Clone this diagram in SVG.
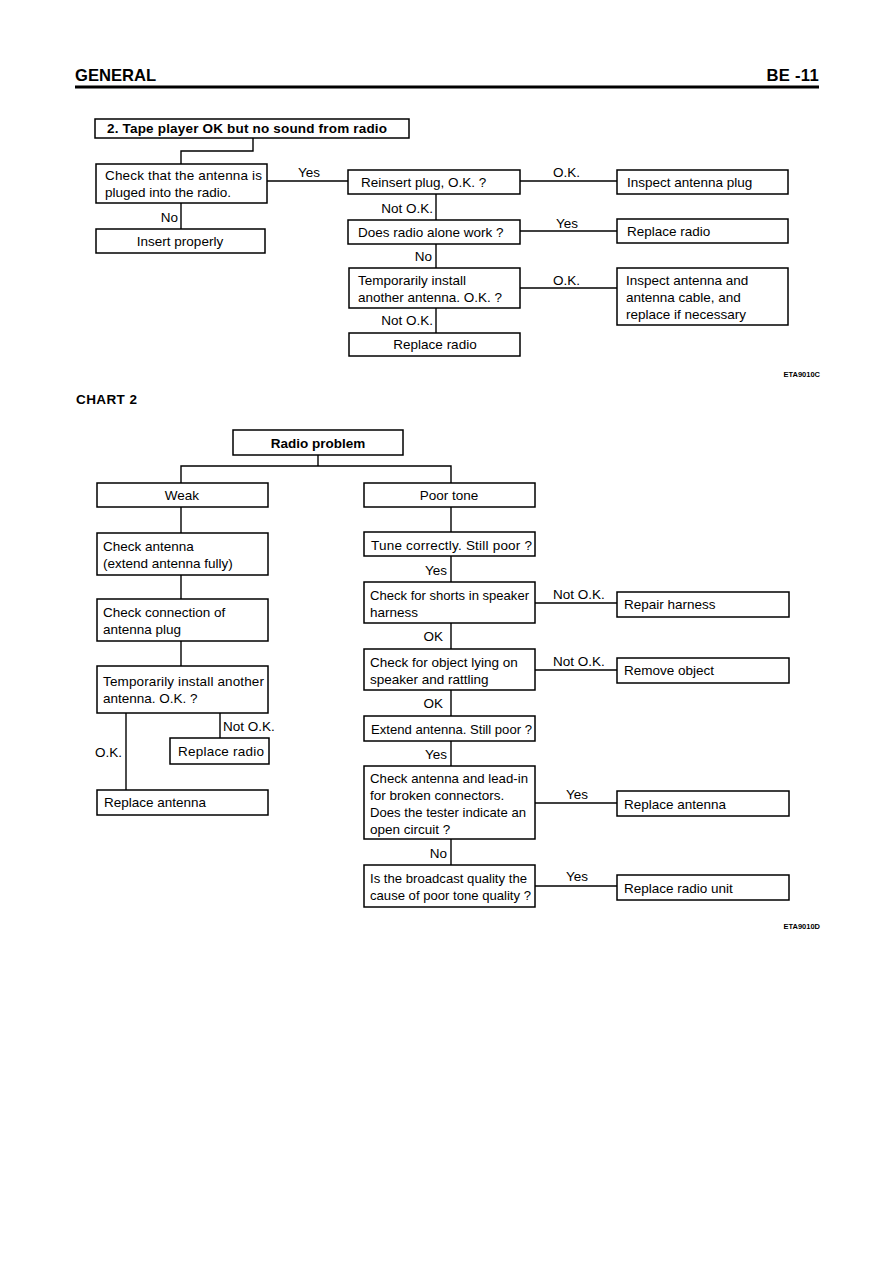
<svg xmlns="http://www.w3.org/2000/svg" width="893" height="1263" viewBox="0 0 893 1263">
<style>
.bg{fill:#ffffff}
.box{fill:#ffffff;stroke:#000000;stroke-width:1.5}
.ln{fill:none;stroke:#000000;stroke-width:1.4}
text{font-family:"Liberation Sans",Arial,sans-serif;font-size:13.5px;fill:#000000}
.b{font-weight:bold}
.c{text-anchor:middle}
.r{text-anchor:end}
.s{font-size:7.5px;font-weight:bold}
</style>
<rect class="bg" x="0" y="0" width="893" height="1263"/>
<g id="header">
<text x="75" y="81" class="b" style="font-size:16.6px">GENERAL</text>
<text x="819" y="81" class="b r" style="font-size:16.6px;letter-spacing:0.3px">BE -11</text>
<rect x="75" y="85.5" width="744" height="3" fill="#000000"/>
</g>
<g id="connectors">
<polyline class="ln" points="253,138 253,151 181,151 181,164"/>
<line class="ln" x1="181" y1="203" x2="181" y2="229"/>
<line class="ln" x1="267" y1="181" x2="348" y2="181"/>
<line class="ln" x1="520" y1="181" x2="617" y2="181"/>
<line class="ln" x1="436" y1="194" x2="436" y2="220"/>
<line class="ln" x1="520" y1="231" x2="617" y2="231"/>
<line class="ln" x1="436" y1="244" x2="436" y2="268"/>
<line class="ln" x1="520" y1="288" x2="617" y2="288"/>
<line class="ln" x1="436" y1="308" x2="436" y2="333"/>
<line class="ln" x1="318" y1="455" x2="318" y2="466"/>
<polyline class="ln" points="181,483 181,466 451,466 451,483"/>
<line class="ln" x1="181" y1="507" x2="181" y2="533"/>
<line class="ln" x1="181" y1="575" x2="181" y2="599"/>
<line class="ln" x1="181" y1="641" x2="181" y2="666"/>
<line class="ln" x1="126" y1="713" x2="126" y2="790"/>
<line class="ln" x1="220" y1="713" x2="220" y2="738"/>
<line class="ln" x1="451" y1="507" x2="451" y2="532"/>
<line class="ln" x1="451" y1="556" x2="451" y2="582"/>
<line class="ln" x1="451" y1="623" x2="451" y2="649"/>
<line class="ln" x1="451" y1="690" x2="451" y2="716"/>
<line class="ln" x1="451" y1="741" x2="451" y2="766"/>
<line class="ln" x1="451" y1="839" x2="451" y2="865"/>
<line class="ln" x1="535" y1="603" x2="617" y2="603"/>
<line class="ln" x1="535" y1="670" x2="617" y2="670"/>
<line class="ln" x1="535" y1="803" x2="617" y2="803"/>
<line class="ln" x1="535" y1="886" x2="617" y2="886"/>
</g>
<g id="edge-labels">
<text x="298" y="177">Yes</text>
<text x="178" y="222" class="r">No</text>
<text x="553" y="177">O.K.</text>
<text x="433" y="213" class="r">Not O.K.</text>
<text x="556" y="228">Yes</text>
<text x="432" y="261" class="r">No</text>
<text x="553" y="285">O.K.</text>
<text x="433" y="325" class="r">Not O.K.</text>
<text x="223" y="731">Not O.K.</text>
<text x="122" y="757" class="r">O.K.</text>
<text x="447" y="575" class="r">Yes</text>
<text x="443" y="641" class="r">OK</text>
<text x="553" y="599">Not O.K.</text>
<text x="553" y="666">Not O.K.</text>
<text x="443" y="708" class="r">OK</text>
<text x="447" y="759" class="r">Yes</text>
<text x="566" y="799">Yes</text>
<text x="447" y="858" class="r">No</text>
<text x="566" y="881">Yes</text>
</g>
<g id="n-title">
<rect class="box" x="95" y="119" width="314" height="19"/>
<text x="107" y="133" class="b" textLength="280" lengthAdjust="spacing">2. Tape player OK but no sound from radio</text>
</g>
<g id="n-check-plugged">
<rect class="box" x="96" y="164" width="171" height="39"/>
<text x="105" y="180" textLength="157" lengthAdjust="spacing">Check that the antenna is</text>
<text x="105" y="197">pluged into the radio.</text>
</g>
<g id="n-insert">
<rect class="box" x="96" y="229" width="169" height="24"/>
<text x="180" y="246" class="c">Insert properly</text>
</g>
<g id="n-reinsert">
<rect class="box" x="348" y="170" width="172" height="24"/>
<text x="361" y="187">Reinsert plug, O.K. ?</text>
</g>
<g id="n-inspect-plug">
<rect class="box" x="617" y="170" width="171" height="24"/>
<text x="627" y="187">Inspect antenna plug</text>
</g>
<g id="n-radio-alone">
<rect class="box" x="348" y="220" width="172" height="24"/>
<text x="358" y="237">Does radio alone work ?</text>
</g>
<g id="n-replace-radio-1">
<rect class="box" x="617" y="219" width="171" height="24"/>
<text x="627" y="236">Replace radio</text>
</g>
<g id="n-temp-install-1">
<rect class="box" x="349" y="268" width="171" height="40"/>
<text x="358" y="285">Temporarily install</text>
<text x="358" y="302">another antenna. O.K. ?</text>
</g>
<g id="n-inspect-cable">
<rect class="box" x="617" y="268" width="171" height="57"/>
<text x="626" y="285">Inspect antenna and</text>
<text x="626" y="302">antenna cable, and</text>
<text x="626" y="319">replace if necessary</text>
</g>
<g id="n-replace-radio-2">
<rect class="box" x="349" y="333" width="171" height="23"/>
<text x="435" y="349" class="c">Replace radio</text>
</g>
<text x="820" y="377" class="s r">ETA9010C</text>
<text x="76" y="404" class="b" style="letter-spacing:0.4px">CHART 2</text>
<g id="n-radio-problem">
<rect class="box" x="233" y="430" width="170" height="25"/>
<text x="318" y="448" class="b c">Radio problem</text>
</g>
<g id="n-weak">
<rect class="box" x="97" y="483" width="171" height="24"/>
<text x="182" y="500" class="c">Weak</text>
</g>
<g id="n-poor-tone">
<rect class="box" x="364" y="483" width="171" height="24"/>
<text x="449" y="500" class="c">Poor tone</text>
</g>
<g id="n-check-antenna">
<rect class="box" x="97" y="533" width="171" height="42"/>
<text x="103" y="551">Check antenna</text>
<text x="103" y="568">(extend antenna fully)</text>
</g>
<g id="n-check-connection">
<rect class="box" x="97" y="599" width="171" height="42"/>
<text x="103" y="617">Check connection of</text>
<text x="103" y="634">antenna plug</text>
</g>
<g id="n-temp-install-2">
<rect class="box" x="97" y="666" width="171" height="47"/>
<text x="103" y="686" textLength="161" lengthAdjust="spacing">Temporarily install another</text>
<text x="103" y="703">antenna. O.K. ?</text>
</g>
<g id="n-replace-radio-3">
<rect class="box" x="170" y="738" width="99" height="26"/>
<text x="178" y="756" textLength="86" lengthAdjust="spacing">Replace radio</text>
</g>
<g id="n-replace-antenna-1">
<rect class="box" x="97" y="790" width="171" height="25"/>
<text x="104" y="807">Replace antenna</text>
</g>
<g id="n-tune">
<rect class="box" x="364" y="532" width="171" height="24"/>
<text x="371" y="550" textLength="161" lengthAdjust="spacing">Tune correctly. Still poor ?</text>
</g>
<g id="n-shorts">
<rect class="box" x="364" y="582" width="171" height="41"/>
<text x="370" y="600" textLength="159" lengthAdjust="spacingAndGlyphs">Check for shorts in speaker</text>
<text x="370" y="617">harness</text>
</g>
<g id="n-repair-harness">
<rect class="box" x="617" y="592" width="172" height="25"/>
<text x="624" y="609">Repair harness</text>
</g>
<g id="n-object">
<rect class="box" x="364" y="649" width="171" height="41"/>
<text x="370" y="667">Check for object lying on</text>
<text x="370" y="684">speaker and rattling</text>
</g>
<g id="n-remove-object">
<rect class="box" x="617" y="658" width="172" height="25"/>
<text x="624" y="675">Remove object</text>
</g>
<g id="n-extend">
<rect class="box" x="364" y="716" width="171" height="25"/>
<text x="371" y="734" textLength="161" lengthAdjust="spacingAndGlyphs">Extend antenna. Still poor ?</text>
</g>
<g id="n-lead-in">
<rect class="box" x="364" y="766" width="171" height="73"/>
<text x="370" y="783" textLength="158" lengthAdjust="spacingAndGlyphs">Check antenna and lead-in</text>
<text x="370" y="800">for broken connectors.</text>
<text x="370" y="817" textLength="156" lengthAdjust="spacingAndGlyphs">Does the tester indicate an</text>
<text x="370" y="834">open circuit ?</text>
</g>
<g id="n-replace-antenna-2">
<rect class="box" x="617" y="791" width="172" height="25"/>
<text x="624" y="809">Replace antenna</text>
</g>
<g id="n-broadcast">
<rect class="box" x="364" y="865" width="171" height="42"/>
<text x="370" y="883" textLength="157" lengthAdjust="spacingAndGlyphs">Is the broadcast quality the</text>
<text x="370" y="900" textLength="161" lengthAdjust="spacingAndGlyphs">cause of poor tone quality ?</text>
</g>
<g id="n-replace-radio-unit">
<rect class="box" x="617" y="875" width="172" height="25"/>
<text x="624" y="893">Replace radio unit</text>
</g>
<text x="820" y="929" class="s r">ETA9010D</text>
</svg>
